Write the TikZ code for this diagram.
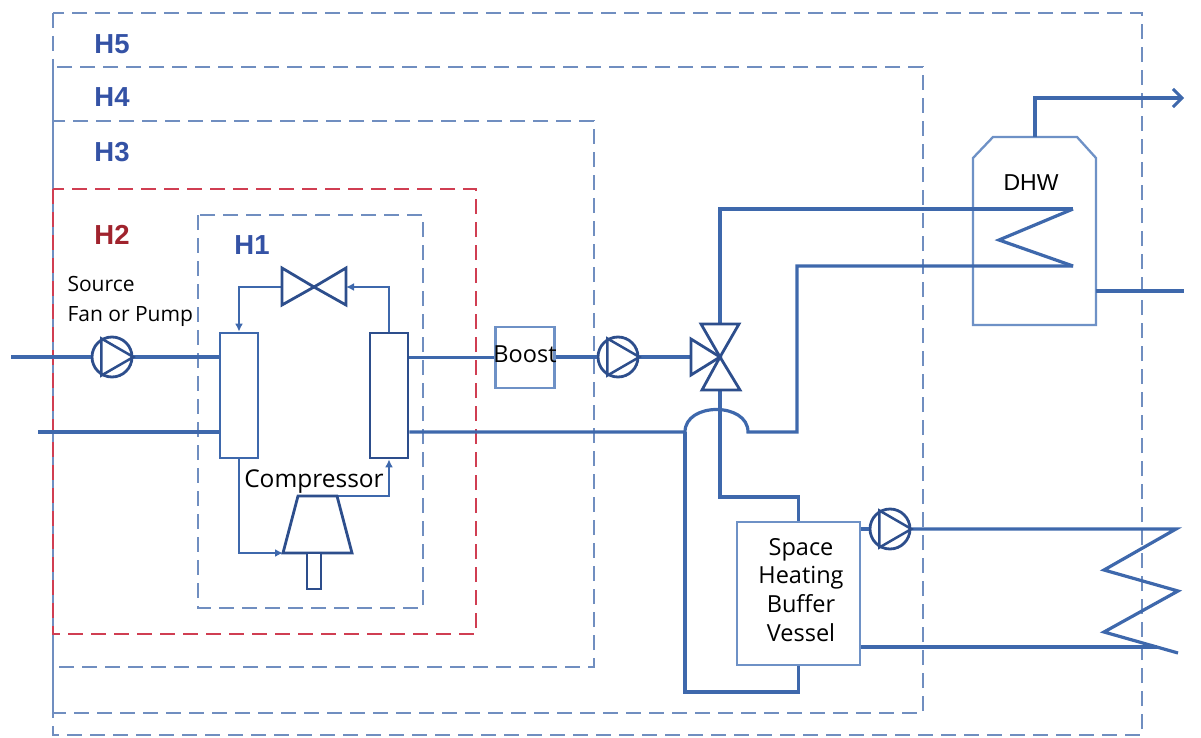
\documentclass[tikz,border=0pt]{standalone}
\usepackage{fontspec}
\setmainfont{Open Sans}
\newfontfamily\arialf{Liberation Sans}
\usetikzlibrary{arrows.meta,calc}
\definecolor{pipec}{RGB}{62,104,172}
\definecolor{darkc}{RGB}{45,78,140}
\definecolor{lightc}{RGB}{110,145,198}
\definecolor{dashc}{RGB}{112,142,192}
\definecolor{reddash}{RGB}{208,62,82}
\definecolor{hblue}{RGB}{52,82,165}
\definecolor{hred}{RGB}{160,35,45}
\begin{document}
\begin{tikzpicture}[x=1pt,y=-1pt,
  zone/.style={draw=dashc, line width=2.6pt, dash pattern=on 15pt off 8pt},
  redzone/.style={zone, draw=reddash},
  pipe/.style={draw=pipec, line width=3.2pt},
  refr/.style={draw=pipec, line width=2.6pt},
  arr/.style={-{Latex[length=8pt,width=8pt]}},
  hxbox/.style={draw=pipec, line width=2.8pt, fill=white, minimum width=38pt, minimum height=125pt, inner sep=0pt},
  unitbox/.style={draw=lightc, line width=2.3pt, fill=white, inner sep=0pt},
  pumpc/.style={circle, draw=darkc, fill=white, line width=2.8pt, minimum size=40pt, inner sep=0pt},
  valvec/.style={draw=darkc, line width=2.8pt, fill=white, line join=miter},
  hlabel/.style={font=\arialf\bfseries\fontsize{27.5}{28}\selectfont, text=hblue},
  txt/.style={font=\fontsize{23.5}{28}\selectfont, text=black},
]
\useasboundingbox (0,0) rectangle (1201,738);

% zones
\draw[zone] (53,13) rectangle (1142,735);
\draw[zone] (53,67) rectangle (923,713);
\draw[zone] (53,121) rectangle (594,667);
\draw[redzone] (53,189) rectangle (476,634);
\draw[zone] (198,215) rectangle (423,608);

\node[hlabel] (lh5) at (112,44) {H5};
\node[hlabel] (lh4) at (112,97) {H4};
\node[hlabel] (lh3) at (112,152) {H3};
\node[hlabel, text=hred] (lh2) at (112,235) {H2};
\node[hlabel] (lh1) at (252,245) {H1};

% components
\node[hxbox] (evap) at (239,395.5) {};
\node[hxbox, draw=darkc] (cond) at (389,395.5) {};
\node[unitbox, minimum width=59pt, minimum height=61pt] (boost) at (525,357.5) {};
\node[unitbox, minimum width=123pt, minimum height=143pt] (buffer) at (798.5,593.5) {};
\node[pumpc] (pump1) at (112,357) {};
\node[pumpc] (pump2) at (618,357) {};
\node[pumpc] (pump3) at (890,529) {};

% DHW tank
\draw[draw=lightc, line width=2.3pt, fill=white] (973,325) -- (973,158) -- (993,137) -- (1077,137) -- (1096,158) -- (1096,325) -- cycle;
\coordinate (tanktop) at (1035,137);
\coordinate (tankright) at (1096,291);

% coordinates
\coordinate (sin) at (11,357);
\coordinate (sin2) at (38,432);
\coordinate (v) at (720,357);
\coordinate (vl) at (691,357);
\coordinate (vt) at (720,324);
\coordinate (vb) at (720,390);
\coordinate (jl) at (685,432);
\coordinate (jr) at (748,432);
\coordinate (coilT) at (1073,209);
\coordinate (coilB) at (1073,266);
\coordinate (ev) at (314,287);
\coordinate (evL) at (282,287);
\coordinate (evR) at (346,287);
\coordinate (cpTL) at (298,496);
\coordinate (cpTR) at (337,496);
\coordinate (cpBR) at (352,553);
\coordinate (cpBL) at (283,553);
\coordinate (dhwout) at (1184,98);
\coordinate (dhwout2) at (1184,291);

% source side pipes
\draw[pipe] (sin) -- (pump1.west);
\draw[pipe] (pump1.east) -- (evap.west |- pump1);
\draw[pipe] (sin2) -- (evap.west |- sin2);

% sink side pipes
\draw[pipe] (cond.east |- boost) -- (boost.west);
\draw[pipe] (boost.east |- pump2) -- (pump2.west);
\draw[pipe] (pump2.east) -- (vl);
\draw[pipe] (cond.east |- sin2) -- (jl) .. controls (685,402) and (748,402) .. (jr) -- (797,432) -- (797,266) -- (coilB);
\draw[pipe] (jl) -- (685,692) -| (buffer.south);
\draw[pipe] (vb) -- (720,497) -| (buffer.north);
\draw[pipe] (vt) -- (720,209) -- (coilT);
\draw[pipe] (coilT) -- (999,240) -- (coilB);
\draw[pipe, -{Straight Barb[length=9pt,width=18pt,line width=3pt]}] (tanktop) |- (dhwout);
\draw[pipe] (tankright) -- (dhwout2);
\draw[pipe] (buffer.east |- pump3) -- (pump3.west);
\draw[pipe] (pump3.east) -- (1176,529) -- (1104,570) -- (1178,591) -- (1104,632) -- (1178,653);
\draw[pipe] (buffer.east |- 0,647) -- (1157,647);

% refrigerant loop
\draw[refr, arr] (evap.south) |- (cpBL);
\draw[refr, arr] (cpTR) -| (cond.south);
\draw[refr, arr] (cond.north) |- (evR);
\draw[refr, arr] (evL) -| (evap.north);

% compressor
\draw[valvec] (cpTL) -- (cpTR) -- (cpBR) -- (cpBL) -- cycle;
\draw[valvec] (307,553) rectangle (321,589);

% expansion valve
\draw[valvec] (ev) -- (evL |- 0,268) -- (evL |- 0,305) -- cycle;
\draw[valvec] (ev) -- (evR |- 0,268) -- (evR |- 0,305) -- cycle;

% three-way valve
\draw[valvec] (v) -- (701,324) -- (739,324) -- cycle;
\draw[valvec] (v) -- (702,390) -- (740,390) -- cycle;
\draw[valvec] (v) -- (691,339) -- (691,375) -- cycle;

% pump triangles
\foreach \p in {pump1,pump2,pump3}
  \draw[darkc, line width=2.5pt, line join=miter] (\p.120) -- (\p.east) -- (\p.240) -- cycle;

% texts
\node[txt, font=\fontsize{21}{26}\selectfont, anchor=base west] (src1) at (64,291) {Source};
\node[txt, font=\fontsize{21}{26}\selectfont, anchor=base west] (src2) at (64,321) {Fan or Pump};
\node[txt, font=\fontsize{24.5}{28}\selectfont, anchor=base] (tcomp) at (314,487) {Compressor};
\node[txt, anchor=base] (tboost) at (525,362) {Boost};
\node[txt, font=\arialf\fontsize{23}{28}\selectfont, anchor=base] (tdhw) at (1031,190) {DHW};
\node[txt, anchor=base] (sb1) at (801,555) {Space};
\node[txt, anchor=base] (sb2) at (801,583) {Heating};
\node[txt, anchor=base] (sb3) at (801,612) {Buffer};
\node[txt, anchor=base] (sb4) at (801,641) {Vessel};
\end{tikzpicture}
\end{document}
